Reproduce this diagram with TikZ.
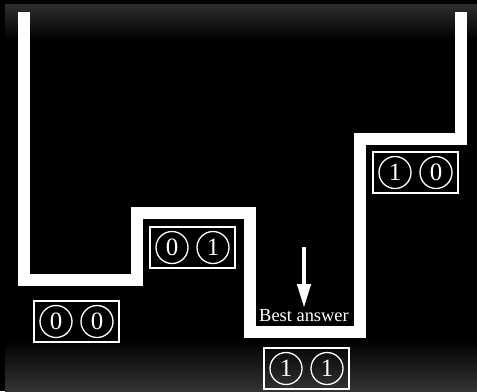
\documentclass[tikz,border=0pt]{standalone}
\usepackage{fontspec}
\setmainfont{Liberation Serif}
\usetikzlibrary{arrows.meta}
\begin{document}
\begin{tikzpicture}[x=1bp,y=-1bp,
  wall/.style={draw=white,line width=12bp,line join=miter,line cap=butt},
  statebox/.style={draw=white,line width=1.4bp,minimum width=85bp,minimum height=41bp,inner sep=0pt},
  bit/.style={draw=white,circle,line width=1.3bp,minimum size=32bp,inner sep=0pt,text=white,font=\fontsize{25}{25}\selectfont},
  lbl/.style={text=white,font=\fontsize{18.5}{20}\selectfont,inner sep=0pt}]
\useasboundingbox (0,0) rectangle (477,391);
\fill[black] (0,0) rectangle (477,391);
\shade[top color=black!82!white,bottom color=black] (5,4) rectangle (477,40);
\shade[top color=black,bottom color=black!80!white] (5,340) rectangle (477,391);
% landscape
\draw[wall] (24,12) -- (24,280) -- (137,280) -- (137,213) -- (250,213) -- (250,332)
  -- (360,332) -- (360,138.5) -- (460.5,138.5) -- (460.5,12);
% state boxes
\node[statebox] (b00) at (76.5,321.5) {};
\node[bit] (b00a) at (56,321.5) {0};
\node[bit] (b00b) at (97,321.5) {0};
\node[statebox] (b01) at (192.5,247.5) {};
\node[bit] (b01a) at (172,247.5) {0};
\node[bit] (b01b) at (213,247.5) {1};
\node[statebox] (b11) at (306.5,368.5) {};
\node[bit] (b11a) at (286,368.5) {1};
\node[bit] (b11b) at (327,368.5) {1};
\node[statebox] (b10) at (415.5,172.5) {};
\node[bit] (b10a) at (395,172.5) {1};
\node[bit] (b10b) at (436,172.5) {0};
% best answer
\node[lbl,anchor=base] (best) at (304,321) {Best answer};
\coordinate (atop) at (304,247);
\coordinate (atip) at (304,308);
\draw[white,line width=4.5bp,-{Triangle[length=24bp,width=13bp]}] (atop) -- (atip);
\end{tikzpicture}
\end{document}
